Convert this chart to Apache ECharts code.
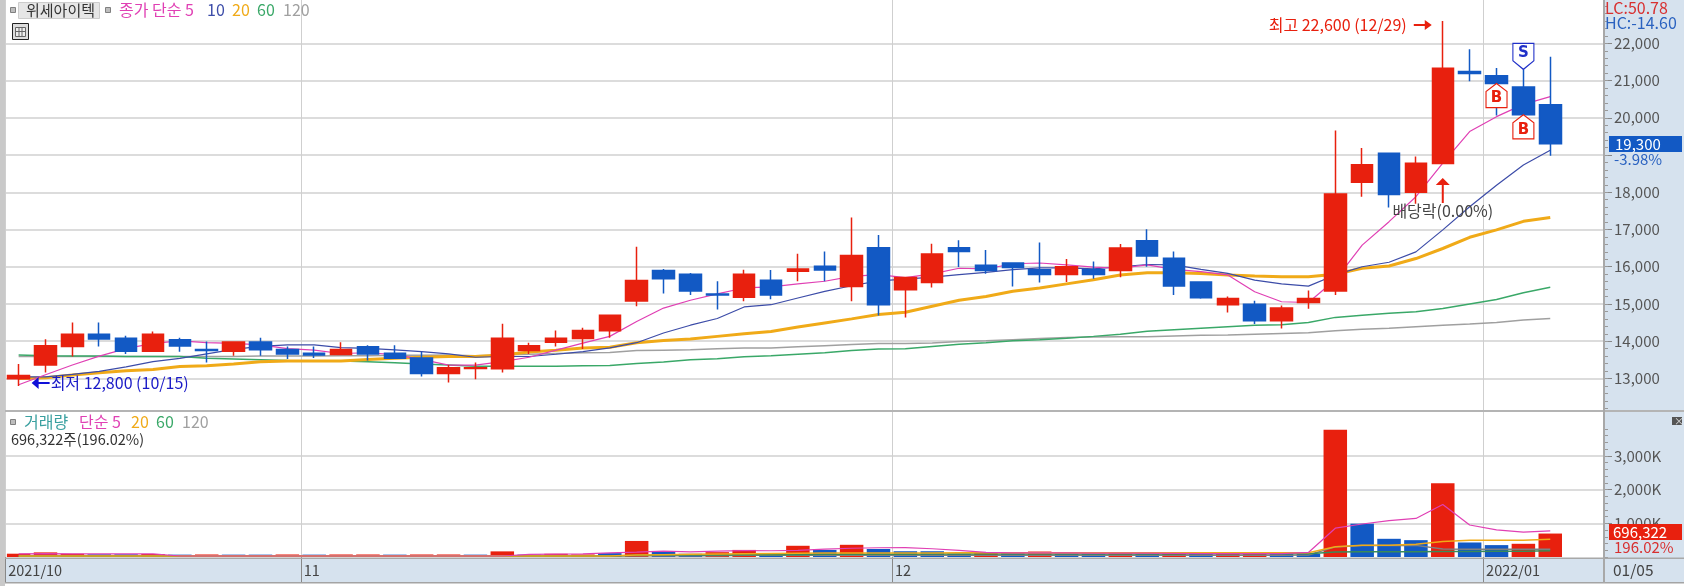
<!DOCTYPE html>
<html>
<head>
<meta charset="utf-8">
<style>html,body{margin:0;padding:0;background:#fff}#main{width:1688px;height:586px}</style>
<script src="https://cdn.jsdelivr.net/npm/echarts@6/dist/echarts.min.js"></script>
</head>
<body>
<div id="main"></div>
<script>
// 캔들 데이터 (2021/10/15 ~ 2022/01/05, 58 거래일)
const opens = [12990,13360,13860,14190,14080,13730,14040,13780,13730,13980,13780,13680,13640,13850,13680,13550,13130,13270,13260,13750,13970,
  14070,14280,15080,15900,15800,15270,15180,15640,15880,16010,15470,16510,15380,15580,16510,16040,16100,15920,15790,15920,
  15900,16700,16230,15590,14980,14990,14550,15040,15350,18270,19050,18000,18770,21240,21130,20830,20350];
const closes = [13080,13880,14190,14060,13730,14190,13870,13750,13980,13770,13660,13630,13780,13660,13540,13130,13290,13290,14080,13880,14080,
  14290,14700,15630,15680,15350,15240,15800,15240,15940,15910,16300,14980,15710,16340,16410,15900,15980,15790,16000,15790,
  16500,16290,15480,15170,15150,14550,14890,15150,17950,18740,17940,18780,21330,21190,20920,20080,19300];
const lows = [12800,13160,13590,13860,13660,13730,13720,13430,13610,13610,13520,13550,13630,13480,13520,13050,12890,12980,13160,13660,13860,
  13790,14090,14940,15280,15240,14850,15070,15130,15610,15610,15070,14690,14640,15440,15990,15810,15470,15580,15590,15680,
  15720,16000,15240,15140,14770,14460,14340,14870,15240,17880,17590,17690,18770,20980,20060,20080,18980];
const highs = [13390,14050,14500,14500,14150,14260,14090,13990,13980,14090,13860,13860,13970,13890,13890,13720,13360,13430,14470,13960,14290,
  14360,14700,16540,15940,15830,15610,15920,15910,16350,16410,17320,16850,15710,16620,16710,16450,16100,16650,16210,16140,
  16610,17010,16410,15590,15200,15090,14960,15360,19660,19190,19070,18960,22600,21840,21340,21300,21640];

const ma5 = [12830,13100,13360,13600,13800,13940,14010,13960,13940,13900,13800,13760,13670,13690,13640,13510,13360,13360,13450,13570,13760,
  13950,14130,14530,14890,15100,15270,15430,15460,15540,15610,15740,15790,15710,15810,15960,15940,16080,16100,16050,15990,
  15960,16050,15930,15870,15780,15330,15060,15040,15650,16580,17210,17880,18780,19630,20030,20360,20570];
const ma10 = [13040,13040,13110,13190,13310,13450,13540,13660,13780,13860,13900,13900,13830,13810,13770,13720,13660,13570,13590,13590,13650,
  13720,13820,13960,14220,14430,14610,14920,14980,15160,15340,15490,15620,15670,15720,15790,15850,15920,15970,15970,15940,
  16000,16060,16050,15930,15820,15640,15540,15480,15780,16000,16120,16400,16990,17610,18190,18730,19130];
const ma20 = [13000,13020,13090,13150,13210,13240,13320,13340,13390,13450,13470,13470,13470,13510,13540,13570,13590,13590,13630,13710,13760,
  13820,13840,13960,14020,14060,14130,14200,14260,14380,14490,14600,14720,14780,14940,15100,15200,15340,15430,15540,15650,
  15780,15840,15840,15820,15780,15750,15730,15730,15800,15960,16020,16220,16490,16790,16990,17220,17320];
const ma60 = [13630,13610,13600,13600,13590,13590,13590,13540,13520,13500,13480,13470,13470,13450,13420,13390,13360,13330,13330,13330,13330,
  13340,13350,13400,13440,13500,13530,13580,13610,13650,13690,13750,13790,13800,13860,13920,13960,14010,14040,14080,14130,
  14190,14270,14310,14350,14390,14430,14440,14500,14640,14700,14750,14790,14880,15000,15120,15300,15450];
const ma120 = [13590,13590,13590,13590,13590,13590,13590,13590,13590,13600,13600,13600,13610,13610,13620,13620,13630,13610,13630,13650,13670,
  13690,13700,13750,13760,13770,13800,13820,13820,13850,13880,13910,13940,13940,13950,13990,14010,14040,14070,14100,14110,
  14120,14120,14140,14160,14170,14190,14210,14230,14280,14320,14350,14390,14430,14460,14500,14570,14610];

// 거래량 (천주 단위)
const volumes = [98,137,95,80,80,88,70,75,70,70,75,70,75,75,70,75,75,70,167,70,95,76,115,476,171,95,143,210,115,333,210,
  362,238,171,171,95,143,115,162,100,98,147,98,98,98,98,98,98,98,3775,990,540,500,2185,431,353,392,696];
const volDirs = 'rrrbbrbrbbrbrrbrrbrbrrbrbbrrbrbrbbbbrbrbbrbrbrrbbrbbbrbbrr';
const volMa5 = [95,100,95,95,95,95,30,30,30,30,30,30,30,30,30,30,30,30,30,75,85,90,120,145,175,150,175,190,185,195,235,
  260,275,280,245,195,140,125,125,120,115,115,115,110,100,100,100,100,135,855,980,1077,1144,1557,950,807,740,778];
const volMa20 = [30,30,30,30,30,30,30,30,30,30,30,30,30,30,30,30,30,30,30,30,30,30,30,60,70,80,90,100,105,110,115,
  120,120,120,120,125,125,125,125,125,125,125,125,125,125,125,125,125,125,307,346,346,375,461,500,500,500,529];
const volMa60 = [30,30,30,30,30,30,30,30,30,30,30,30,30,30,30,30,30,30,30,30,30,30,30,50,60,60,60,70,70,70,80,
  80,80,80,90,90,90,90,90,90,90,90,90,90,95,95,95,95,100,150,154,154,154,160,165,170,170,185];
const volMa120 = [30,30,30,30,30,30,30,30,30,30,30,30,30,30,30,30,30,30,30,30,30,30,30,40,40,40,40,50,50,50,50,
  50,50,50,50,55,55,55,55,55,55,55,55,55,55,55,55,55,60,300,340,340,345,235,230,230,230,230];

const monthTicks = [-0.5, 10.5, 32.5, 54.5, 59];
const monthLabelTicks = [-0.5, 10.5, 32.5, 54.5];
const monthLabels = ['2021/10', '11', '12', '2022/01'];
const priceTicks = [13000,14000,15000,16000,17000,18000,19000,20000,21000,22000];
const priceLabelTicks = [13000,14000,15000,16000,17000,18000,20000,21000,22000];
const volumeTicks = [1000000,2000000,3000000];

const RED = '#e8200e', BLUE = '#1259c4', PINK = '#e040b4', NAVY = '#3c4ca8', ORANGE = '#f0aa18', GREEN = '#3aa868', GRAY = '#a0a0a0';
const FONT = "'Liberation Sans Narrow','Noto Sans CJK KR',sans-serif";

// 보조 눈금 값 (200 단위)
const priceMinor = [];
for (let v = 12200; v <= 23000; v += 200) priceMinor.push(v);
const volumeMinor = [];
for (let v = 0; v <= 3800000; v += 200000) volumeMinor.push(v);

const points = arr => arr.map((v, i) => [i, v]);
const volPoints = arr => arr.map((v, i) => [i, v * 1000]);
const comma = n => String(n).replace(/\B(?=(\d{3})+$)/g, ',');

function maLine(name, data, color, width, xIdx, yIdx) {
  return {
    name, type: 'line', data, xAxisIndex: xIdx, yAxisIndex: yIdx,
    showSymbol: false, silent: true, z: 2,
    lineStyle: { color, width }
  };
}

// 화면 텍스트
function txt(x, y, text, fill, size, extra) {
  return {
    type: 'text', x, y, z: 50,
    style: Object.assign({ text, fill, font: (size || 16) + 'px ' + FONT, verticalAlign: 'middle' }, extra || {})
  };
}
function box(x, y, width, height, fill, stroke, z) {
  return {
    type: 'rect', z: z === undefined ? 40 : z,
    shape: { x, y, width, height },
    style: { fill, stroke: stroke || null, lineWidth: stroke ? 1 : 0 }
  };
}

const graphics = [
  box(1604, 0, 80, 583, '#d6e2ee', null, -5),
  box(5, 558, 1679, 25, '#d6e2ee', null, -5),
  box(0, 0, 5, 586, '#c9c9c9', null, 40),
  box(5, 410, 1679, 2, '#b4b4b4', null, 30),
  box(5, 582, 1679, 1.5, '#a4a4a4', null, 30),
  box(1603, 0, 2, 583, '#a8a8a8', null, 30),
  box(5, 557.5, 1679, 1.5, '#a8a8a8', null, 30),

  // 상단 범례
  box(10.5, 7.5, 5, 5, '#bdbdbd', '#808080'),
  box(18.5, 2.5, 81, 16, '#e6e6e6', '#cccccc'),
  txt(26, 10, '위세아이텍', '#333333', 15),
  box(105.5, 7.5, 5, 5, '#bdbdbd', '#808080'),
  txt(119, 10, '종가 단순 5', PINK, 16),
  txt(207, 10, '10', NAVY, 16),
  txt(232, 10, '20', ORANGE, 16),
  txt(257, 10, '60', GREEN, 16),
  txt(283, 10, '120', GRAY, 16),

  // 달력 아이콘
  box(12.5, 23.5, 16, 16, '#dddddd', '#222222'),
  box(15.5, 27.5, 10, 9, '#eeeeee', '#666666'),
  { type: 'line', z: 41, shape: { x1: 19, y1: 27, x2: 19, y2: 37 }, style: { stroke: '#666666' } },
  { type: 'line', z: 41, shape: { x1: 22, y1: 27, x2: 22, y2: 37 }, style: { stroke: '#666666' } },
  { type: 'line', z: 41, shape: { x1: 15, y1: 31.5, x2: 26, y2: 31.5 }, style: { stroke: '#666666' } },

  // 우측 상단
  txt(1605, 8, 'LC:50.78', '#d83030', 16),
  txt(1605, 23, 'HC:-14.60', '#2a62c0', 16),

  // 현재가 표시
  box(1609, 136, 73, 16, BLUE),
  txt(1615, 144, comma(closes[57]), '#ffffff', 15),
  txt(1614, 159, '-3.98%', '#2a62c0', 15),

  // 거래량 범례
  box(10.5, 419.5, 5, 5, '#bdbdbd', '#808080'),
  txt(24, 422, '거래량', '#3aa0a0', 16),
  txt(79, 422, '단순 5', PINK, 16),
  txt(131, 422, '20', ORANGE, 16),
  txt(156, 422, '60', GREEN, 16),
  txt(182, 422, '120', GRAY, 16),
  txt(11, 439, '696,322주(196.02%)', '#333333', 14.5),

  // 거래량 표시
  box(1609, 524, 73, 16, RED),
  txt(1613, 532, '696,322', '#ffffff', 15),
  txt(1614, 547, '196.02%', '#d83030', 15),

  // 닫기 버튼
  box(1672, 417, 10, 8, '#555555'),
  txt(1674, 421, '×', '#dddddd', 10),

  // 마지막 날짜
  txt(1613, 570, '01/05', '#444444', 15.5)
];

var myChart = echarts.init(document.getElementById('main'), null, { renderer: 'canvas' });

const UP_ARROW = 'path://M7 0 L14 7 L8 7 L8 25 L6 25 L6 7 L0 7 Z';
const RIGHT_ARROW = 'path://M0 4 L11 4 L11 0 L18 5 L11 10 L11 6 L0 6 Z';
const LEFT_ARROW = 'path://M18 5 L7 5 L7 0 L0 6 L7 12 L7 7 L18 7 Z';
const TAG_UP = 'path://M10 0 L20 8 L20 24 L0 24 L0 8 Z';
const TAG_DOWN = 'path://M0 0 L20 0 L20 16 L10 24 L0 16 Z';

const option = {
  animation: false,
  backgroundColor: '#ffffff',
  textStyle: { fontFamily: FONT },
  grid: [
    { left: 5.2, width: 1598.8, top: 0, height: 411 },
    { left: 5.2, width: 1598.8, top: 412, height: 145 }
  ],
  xAxis: [
    {
      type: 'value', gridIndex: 0, min: -0.5, max: 59,
      axisLine: { show: false, onZero: false }, axisLabel: { show: false },
      axisTick: { show: false, customValues: monthTicks },
      splitLine: { show: true, lineStyle: { color: '#cfcfcf', width: 1 } }
    },
    {
      type: 'value', gridIndex: 1, min: -0.5, max: 59,
      axisLine: { show: false, onZero: false },
      axisTick: { show: true, customValues: monthTicks, length: 25, lineStyle: { color: '#888888' } },
      axisLabel: {
        show: true, customValues: monthLabelTicks, color: '#444444', fontSize: 14.5, fontFamily: FONT,
        align: 'left', verticalAlign: 'middle', margin: 13, padding: [0, 0, 0, 3],
        formatter: v => monthLabels[monthLabelTicks.indexOf(v)]
      },
      splitLine: { show: true, lineStyle: { color: '#cfcfcf', width: 1 } }
    }
  ],
  yAxis: [
    {
      type: 'value', gridIndex: 0, position: 'right', min: 12126, max: 23163,
      axisLine: { show: false, onZero: false },
      axisTick: { show: true, customValues: priceTicks, length: 8, lineStyle: { color: '#888888' } },
      axisLabel: { show: true, customValues: priceLabelTicks, color: '#555555', fontSize: 15, fontFamily: FONT, margin: 10, formatter: v => comma(v) },
      splitLine: { show: true, lineStyle: { color: '#dcdcdc', width: 2 } }
    },
    {
      type: 'value', gridIndex: 1, position: 'right', min: 0, max: 4303000,
      axisLine: { show: false, onZero: false },
      axisTick: { show: true, customValues: volumeTicks, length: 8, lineStyle: { color: '#888888' } },
      axisLabel: { show: true, customValues: volumeTicks, color: '#555555', fontSize: 15, fontFamily: FONT, margin: 10, formatter: v => comma(v / 1000) + 'K' },
      splitLine: { show: true, lineStyle: { color: '#dcdcdc', width: 2 } }
    },
    // 보조 눈금: 왼쪽 축을 오른쪽 끝으로 옮겨서 그린다
    {
      type: 'value', gridIndex: 0, position: 'left', offset: -1598.8, min: 12126, max: 23163,
      axisLine: { show: false, onZero: false }, axisLabel: { show: false }, splitLine: { show: false },
      axisTick: { show: true, inside: true, customValues: priceMinor, length: 4, lineStyle: { color: '#999999' } }
    },
    {
      type: 'value', gridIndex: 1, position: 'left', offset: -1598.8, min: 0, max: 4303000,
      axisLine: { show: false, onZero: false }, axisLabel: { show: false }, splitLine: { show: false },
      axisTick: { show: true, inside: true, customValues: volumeMinor, length: 4, lineStyle: { color: '#999999' } }
    }
  ],
  graphic: graphics,
  series: [
    maLine('120', points(ma120), GRAY, 1.5, 0, 0),
    maLine('60', points(ma60), GREEN, 1.5, 0, 0),
    maLine('20', points(ma20), ORANGE, 3, 0, 0),
    maLine('10', points(ma10), NAVY, 1.2, 0, 0),
    maLine('5', points(ma5), PINK, 1.2, 0, 0),
    {
      name: '종가', type: 'candlestick', xAxisIndex: 0, yAxisIndex: 0, z: 3,
      barWidth: 22,
      data: opens.map((o, i) => [i, o, closes[i], lows[i], highs[i]]),
      itemStyle: { color: RED, color0: BLUE, borderColor: RED, borderColor0: BLUE, borderWidth: 1.5 },
      markPoint: {
        silent: true, animation: false, z: 6,
        data: [
          {
            coord: [53, highs[53]], symbol: RIGHT_ARROW, symbolSize: [18, 10], symbolOffset: [-20, 4],
            itemStyle: { color: RED },
            label: { show: true, position: 'left', distance: 7, formatter: '최고 22,600 (12/29)', color: RED, fontSize: 16, fontFamily: FONT }
          },
          {
            coord: [0, lows[0]], symbol: LEFT_ARROW, symbolSize: [18, 12], symbolOffset: [22, -3],
            itemStyle: { color: '#1010d8' },
            label: { show: true, position: 'right', distance: 1, formatter: '최저 12,800 (10/15)', color: '#1a1ac8', fontSize: 16, fontFamily: FONT }
          },
          {
            coord: [53, 18045], symbol: UP_ARROW, symbolSize: [14, 25],
            itemStyle: { color: RED },
            label: { show: true, position: 'bottom', distance: 0, formatter: '배당락(0.00%)', color: '#444444', fontSize: 16, fontFamily: FONT }
          },
          {
            coord: [55, closes[55]], symbol: TAG_UP, symbolSize: [21, 24], symbolOffset: [0, '50%'],
            itemStyle: { color: '#ffffff', borderColor: RED, borderWidth: 1.2 },
            label: { show: true, position: 'inside', offset: [0, 3], formatter: 'B', color: RED, fontSize: 15, fontWeight: 'bold', fontFamily: 'DejaVu Sans' }
          },
          {
            coord: [56, closes[56]], symbol: TAG_UP, symbolSize: [21, 24], symbolOffset: [0, '50%'],
            itemStyle: { color: '#ffffff', borderColor: RED, borderWidth: 1.2 },
            label: { show: true, position: 'inside', offset: [0, 3], formatter: 'B', color: RED, fontSize: 15, fontWeight: 'bold', fontFamily: 'DejaVu Sans' }
          },
          {
            coord: [56, highs[56]], symbol: TAG_DOWN, symbolSize: [21, 26], symbolOffset: [0, '-50%'],
            itemStyle: { color: '#ffffff', borderColor: '#2030c8', borderWidth: 1.2 },
            label: { show: true, position: 'inside', offset: [0, -3], formatter: 'S', color: '#2030c8', fontSize: 15, fontWeight: 'bold', fontFamily: 'DejaVu Sans' }
          }
        ]
      }
    },
    {
      name: '거래량', type: 'bar', xAxisIndex: 1, yAxisIndex: 1, z: 1, barWidth: 23.5,
      data: volPoints(volumes),
      itemStyle: { color: p => (volDirs[p.dataIndex] === 'r' ? RED : BLUE) }
    },
    maLine('v120', volPoints(volMa120), '#808080', 1.5, 1, 1),
    maLine('v60', volPoints(volMa60), '#3a8a58', 1.5, 1, 1),
    maLine('v20', volPoints(volMa20), ORANGE, 1.5, 1, 1),
    maLine('v5', volPoints(volMa5), PINK, 1.2, 1, 1)
  ]
};
myChart.setOption(option);
</script>
</body>
</html>
